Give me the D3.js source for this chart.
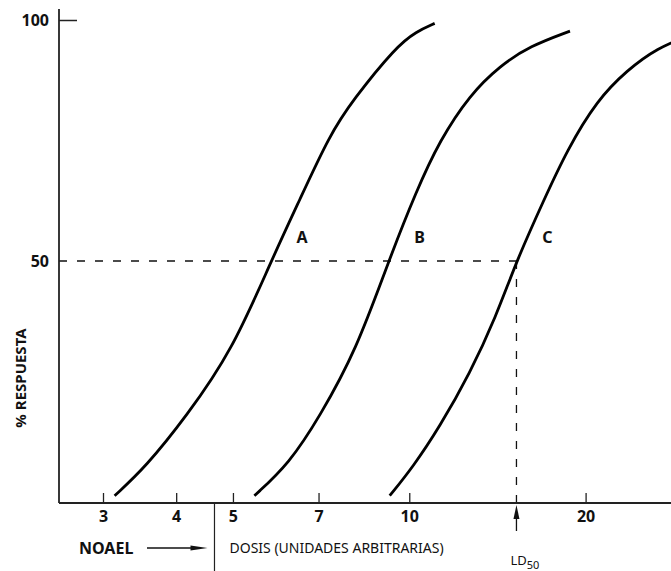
<!DOCTYPE html>
<html lang="en">
<head>
<meta charset="UTF-8">
<title>Dosis-respuesta</title>
<script src="https://d3js.org/d3.v7.min.js"></script>
<style>
  body { margin: 0; background: #fff; }
  text { font-family: "Noto Sans", "DejaVu Sans", sans-serif; fill: #111; }
</style>
</head>
<body>
<div id="my_dataviz"></div>
<script>
// dose values (arbitrary units) and % response
var doseA = [3.14, 3.55, 4.16, 4.99, 5.81, 6.50, 7.31, 8.01, 9.50, 10.28, 11.05];
var respA = [1.3, 7.3, 17.7, 31.5, 50, 62.7, 76.1, 83.4, 94.5, 97.6, 99.3];

var doseB = [5.44, 6.24, 7.03, 8.12, 9.22, 10.28, 11.27, 12.69, 14.28, 16.07, 18.81];
var respB = [1.3, 8.0, 17.7, 31.5, 50, 64.5, 75.0, 84.5, 90.5, 94.6, 97.7];

var doseC = [9.26, 10.15, 11.27, 12.69, 14.06, 15.24, 16.98, 18.59, 20.93, 23.55, 26.51, 30.2];
var respC = [1.3, 7.3, 15.6, 26.7, 38.4, 50, 62.7, 73.0, 83.4, 89.6, 94.2, 96.9];

var curveNames = ["A", "B", "C"];
var xTicks = [3, 4, 5, 7, 10, 20];
var yTicks = [50, 100];
var noaelDose = 4.65;
var ld50Dose = 15.24;

var W = 671, H = 571;
var left = 59, right = 671, bottom = 503;

var svg = d3.select("#my_dataviz").append("svg")
    .attr("width", W).attr("height", H);

// log dose axis, fitted to the tick positions
var x = d3.scaleLog().domain([3, 20]).range([103, 585.6]);
x.domain([x.invert(left), x.invert(right)]).range([left, right]);

var y = d3.scaleLinear().domain([0, 100]).range([502, 20]);

svg.append("defs").append("clipPath").attr("id", "plotclip")
  .append("rect").attr("x", left).attr("y", 0).attr("width", right - left).attr("height", bottom);

// dashed guide lines for 50 % / LD50
svg.append("line")
    .attr("x1", left).attr("x2", x(ld50Dose))
    .attr("y1", y(50)).attr("y2", y(50))
    .attr("stroke", "#111").attr("stroke-width", 1.3).attr("stroke-dasharray", "8,10");
svg.append("line")
    .attr("x1", x(ld50Dose)).attr("x2", x(ld50Dose))
    .attr("y1", y(50)).attr("y2", bottom)
    .attr("stroke", "#111").attr("stroke-width", 1.3).attr("stroke-dasharray", "8,10");

// curves
var series = [
  {name: "A", dose: doseA, resp: respA},
  {name: "B", dose: doseB, resp: respB},
  {name: "C", dose: doseC, resp: respC}
];
var line = d3.line()
    .x(function(d) { return x(d[0]); })
    .y(function(d) { return y(d[1]); })
    .curve(d3.curveBasis);

svg.append("g").attr("clip-path", "url(#plotclip)")
  .selectAll("path")
  .data(series)
  .enter().append("path")
    .attr("d", function(s) { return line(s.dose.map(function(v, i) { return [v, s.resp[i]]; })); })
    .attr("fill", "none")
    .attr("stroke", "#000")
    .attr("stroke-width", 2.8);

// curve labels, placed just right of the 50 % crossing
var mid = [5.81, 9.22, 15.24];
svg.selectAll(".clabel")
  .data(curveNames)
  .enter().append("text")
    .attr("class", "clabel")
    .attr("x", function(d, i) { return x(mid[i]) + 31; })
    .attr("y", y(55))
    .attr("text-anchor", "middle")
    .attr("dy", "0.35em")
    .style("font-weight", "bold")
    .style("font-size", "16px")
    .text(function(d) { return d; });

// x axis
var gx = svg.append("g")
    .attr("transform", "translate(0," + bottom + ")")
    .call(d3.axisBottom(x).tickValues(xTicks).tickFormat(d3.format("d")).tickSizeInner(-10).tickSizeOuter(0).tickPadding(8));
gx.select(".domain").remove();
gx.selectAll(".tick line").attr("stroke", "#222").attr("stroke-width", 1.3);
gx.selectAll(".tick text").style("font-size", "16px").style("font-weight", "bold")
    .style("font-family", "'Noto Sans', sans-serif").attr("fill", "#111");
svg.append("line").attr("x1", left).attr("x2", right).attr("y1", bottom).attr("y2", bottom)
    .attr("stroke", "#222").attr("stroke-width", 1.8);

// y axis
var gy = svg.append("g")
    .attr("transform", "translate(" + left + ",0)")
    .call(d3.axisLeft(y).tickValues(yTicks).tickSizeInner(-18).tickSizeOuter(0).tickPadding(10));
gy.select(".domain").remove();
gy.selectAll(".tick line").attr("stroke", "#222").attr("stroke-width", 1.5)
    .attr("display", function(d) { return d === 50 ? "none" : null; });
gy.selectAll(".tick text").style("font-size", "16px").style("font-weight", "bold")
    .style("font-family", "'Noto Sans', sans-serif").attr("fill", "#111");
svg.append("line").attr("x1", left).attr("x2", left).attr("y1", 9).attr("y2", bottom)
    .attr("stroke", "#222").attr("stroke-width", 1.8);

svg.append("text")
    .attr("transform", "translate(26,378) rotate(-90)")
    .attr("text-anchor", "middle")
    .style("font-weight", "bold")
    .style("font-size", "15px")
    .text("% RESPUESTA");

// NOAEL marker
var xn = x(noaelDose);
svg.append("line").attr("x1", xn).attr("x2", xn).attr("y1", bottom).attr("y2", H)
    .attr("stroke", "#222").attr("stroke-width", 1.2);
svg.append("text").attr("x", 79).attr("y", 548).attr("dy", "0.35em")
    .style("font-weight", "bold").style("font-size", "16px").text("NOAEL");
svg.append("line").attr("x1", 147).attr("x2", xn - 14).attr("y1", 548).attr("y2", 548)
    .attr("stroke", "#111").attr("stroke-width", 1.3);
svg.append("path")
    .attr("d", "M" + (xn - 24) + ",545.5 L" + (xn - 7) + ",548 L" + (xn - 24) + ",550.5 Z")
    .attr("fill", "#111");
svg.append("text").attr("x", xn + 15).attr("y", 548).attr("dy", "0.35em")
    .style("font-size", "14px").text("DOSIS (UNIDADES ARBITRARIAS)");

// LD50 marker
var xl = x(ld50Dose);
svg.append("line").attr("x1", xl).attr("x2", xl).attr("y1", 515).attr("y2", 531)
    .attr("stroke", "#111").attr("stroke-width", 1.3);
svg.append("path")
    .attr("d", "M" + (xl - 3) + ",519 L" + xl + ",505 L" + (xl + 3) + ",519 Z")
    .attr("fill", "#111");
var ld = svg.append("text").attr("x", xl - 6).attr("y", 565).style("font-size", "13px");
ld.append("tspan").text("LD");
ld.append("tspan").attr("dy", 4).style("font-size", "11px").text("50");
</script>
</body>
</html>
